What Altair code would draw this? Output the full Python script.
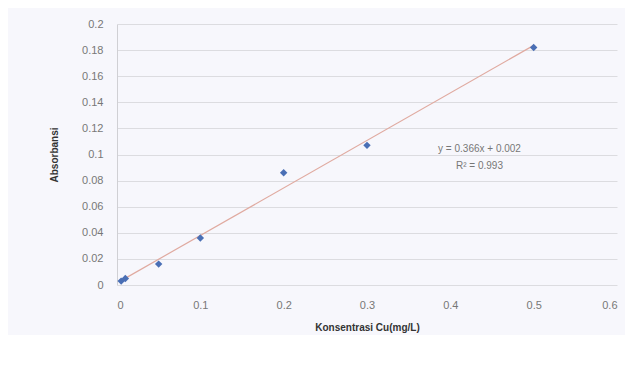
import altair as alt
import pandas as pd

conc = [0.005, 0.01, 0.05, 0.1, 0.2, 0.3, 0.5]
absorb = [0.003, 0.005, 0.016, 0.036, 0.086, 0.107, 0.182]
x_ticks = [0, 0.1, 0.2, 0.3, 0.4, 0.5, 0.6]
y_ticks = [0, 0.02, 0.04, 0.06, 0.08, 0.1, 0.12, 0.14, 0.16, 0.18, 0.2]
eq_lines = ["y = 0.366x + 0.002", "R² = 0.993"]
eq_x = [0.435, 0.435]
eq_y = [0.1045, 0.0915]

df = pd.DataFrame({"x": conc, "y": absorb})
ann = pd.DataFrame({"t": eq_lines, "x": eq_x, "y": eq_y})

xs = alt.Scale(domain=[0, 0.6], nice=False, zero=False)
ys = alt.Scale(domain=[0, 0.2], nice=False, zero=False)

xax = alt.Axis(title="Konsentrasi Cu(mg/L)", values=x_ticks, labelExpr="'' + datum.value",
               grid=False, ticks=False, domain=False, labelPadding=14, labelOverlap=False,
               titlePadding=12, labelFontSize=11, labelColor="#777777",
               titleFontSize=10, titleColor="#333333", titleFontWeight="bold")
yax = alt.Axis(title="Absorbansi", values=y_ticks, labelExpr="'' + datum.value",
               grid=True, gridColor="#dcdce0", ticks=False, domain=True, labelOverlap=False,
               domainColor="#d0d0d4", labelPadding=14, titlePadding=22,
               labelFontSize=11, labelColor="#777777",
               titleFontSize=10, titleColor="#333333", titleFontWeight="bold")

base = alt.Chart(df)

trend = base.transform_regression("x", "y", method="linear").mark_line(
    color="#e0aaa0", strokeWidth=1.2
).encode(
    x=alt.X("x:Q", scale=xs, axis=xax),
    y=alt.Y("y:Q", scale=ys, axis=yax),
)

pts = base.mark_point(shape="diamond", filled=True, size=55, color="#4a6fb5", opacity=1).encode(
    x=alt.X("x:Q", scale=xs, axis=xax),
    y=alt.Y("y:Q", scale=ys, axis=yax),
)

txt = alt.Chart(ann).mark_text(fontSize=10, color="#777777", align="center").encode(
    x=alt.X("x:Q", scale=xs, axis=xax),
    y=alt.Y("y:Q", scale=ys, axis=yax),
    text="t:N",
)

chart = alt.layer(trend, pts, txt).properties(
    width=500, height=261,
    background="#f7f7fc",
    padding={"left": 109, "top": 16, "right": 8, "bottom": 50},
    autosize=alt.AutoSizeParams(type="none"),
).configure_view(stroke=None).configure_axis(labelFont="Liberation Sans", titleFont="Liberation Sans")

chart.save("out.html", embed_options={"renderer": "svg", "actions": False})
